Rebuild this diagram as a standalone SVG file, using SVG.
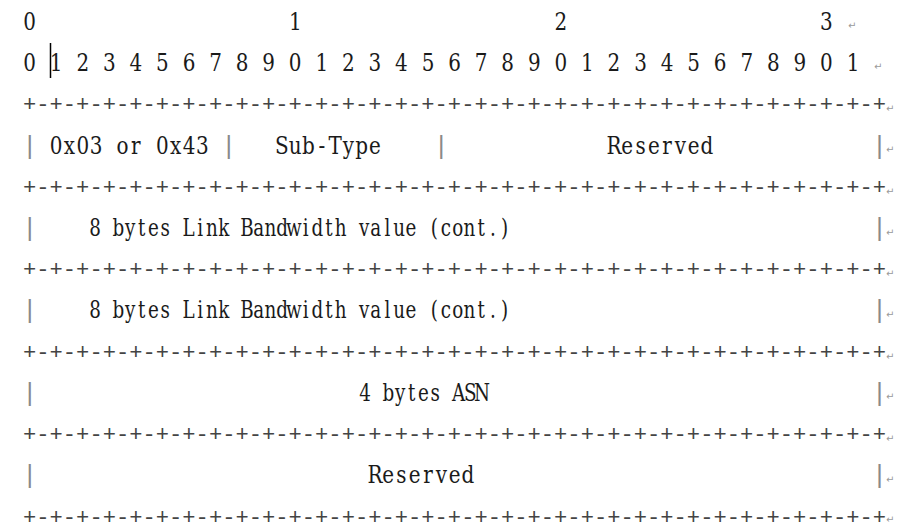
<svg xmlns="http://www.w3.org/2000/svg" width="901" height="524" viewBox="0 0 901 524">
<style>
text{font-family:"DejaVu Serif","Liberation Serif",serif;font-size:23.5px;fill:#1a1a1a;text-anchor:middle}
.mono{font-family:"Liberation Mono","DejaVu Sans Mono",monospace;font-size:22.13px;text-anchor:start;white-space:pre}
.bar{font-family:"Liberation Mono","DejaVu Sans Mono",monospace;font-size:25px;fill:#8a8a8a;text-anchor:middle}
.brd{fill:#444444}
.pm{font-family:"DejaVu Sans",sans-serif;font-size:10px;fill:#9a9a9a;text-anchor:start}
</style>
<rect width="901" height="524" fill="#ffffff"/>
<g id="header">
<text transform="translate(29.64,30) scale(0.85,1)">0</text>
<text transform="translate(295.24,30) scale(0.85,1)">1</text>
<text transform="translate(560.84,30) scale(0.85,1)">2</text>
<text transform="translate(826.44,30) scale(0.85,1)">3</text>
<text class="pm" x="848" y="29">↵</text>
<text transform="translate(29.64,71) scale(0.85,1)" x="0 31.247 62.494 93.741 124.988 156.235 187.482 218.729 249.976 281.224 312.471 343.718 374.965 406.212 437.459 468.706 499.953 531.2 562.447 593.694 624.941 656.188 687.435 718.682 749.929 781.176 812.424 843.671 874.918 906.165 937.412 968.659">01234567890123456789012345678901</text>
<text class="pm" x="874" y="70">↵</text>
<line x1="50.5" y1="43" x2="50.5" y2="78" stroke="#000" stroke-width="1.5"/>
</g>
<g id="borders">
<text class="mono brd" x="23" y="111">+-+-+-+-+-+-+-+-+-+-+-+-+-+-+-+-+-+-+-+-+-+-+-+-+-+-+-+-+-+-+-+-+</text>
<text class="mono brd" x="23" y="193.5">+-+-+-+-+-+-+-+-+-+-+-+-+-+-+-+-+-+-+-+-+-+-+-+-+-+-+-+-+-+-+-+-+</text>
<text class="mono brd" x="23" y="276">+-+-+-+-+-+-+-+-+-+-+-+-+-+-+-+-+-+-+-+-+-+-+-+-+-+-+-+-+-+-+-+-+</text>
<text class="mono brd" x="23" y="358.5">+-+-+-+-+-+-+-+-+-+-+-+-+-+-+-+-+-+-+-+-+-+-+-+-+-+-+-+-+-+-+-+-+</text>
<text class="mono brd" x="23" y="441">+-+-+-+-+-+-+-+-+-+-+-+-+-+-+-+-+-+-+-+-+-+-+-+-+-+-+-+-+-+-+-+-+</text>
<text class="mono brd" x="23" y="523.5">+-+-+-+-+-+-+-+-+-+-+-+-+-+-+-+-+-+-+-+-+-+-+-+-+-+-+-+-+-+-+-+-+</text>
<text class="pm" x="886" y="112">↵</text>
<text class="pm" x="886" y="194.5">↵</text>
<text class="pm" x="886" y="277">↵</text>
<text class="pm" x="886" y="359.5">↵</text>
<text class="pm" x="886" y="442">↵</text>
<text class="pm" x="886" y="523">↵</text>
</g>
<g id="row1">
<text class="bar" x="29.64" y="153.6">|</text>
<g id="type"><text transform="translate(56.2,153.6) scale(0.85,1)" x="0 15.624 31.247 46.871 62.494 78.118 93.741 109.365 124.988 140.612 156.235 171.859">0x03 or 0x43</text></g>
<text class="bar" x="228.84" y="153.6">|</text>
<g id="subtype"><text transform="translate(281.96,153.6) scale(0.85,1)" x="0 15.624 31.247 46.871 62.494 78.118 93.741 109.365">Sub-Type</text></g>
<text class="bar" x="441.32" y="153.6">|</text>
<g id="reserved1"><text transform="translate(613.96,153.6) scale(0.85,1)" x="0 15.624 31.247 46.871 62.494 78.118 93.741 109.365">Reserved</text></g>
<text class="bar" x="879.56" y="153.6">|</text>
<text class="pm" x="886" y="153">↵</text>
</g>
<g id="row2">
<text class="bar" x="29.64" y="236">|</text>
<text transform="translate(95,236) scale(0.78,1)" x="0 15 30 45 60 75 90 105 120 135 150 165 180 195 210 225 240 255 270 285 300 315 330 345 360 375 390 405 420 435 450 465 480 495 510 525">8 bytes Link Bandwidth value (cont.)</text>
<text class="bar" x="879.56" y="236">|</text>
<text class="pm" x="886" y="235.5">↵</text>
</g>
<g id="row3">
<text class="bar" x="29.64" y="318.4">|</text>
<text transform="translate(95,318.4) scale(0.78,1)" x="0 15 30 45 60 75 90 105 120 135 150 165 180 195 210 225 240 255 270 285 300 315 330 345 360 375 390 405 420 435 450 465 480 495 510 525">8 bytes Link Bandwidth value (cont.)</text>
<text class="bar" x="879.56" y="318.4">|</text>
<text class="pm" x="886" y="318">↵</text>
</g>
<g id="row4">
<text class="bar" x="29.64" y="400.8">|</text>
<text transform="translate(365,400.8) scale(0.78,1)" x="0 15 30 45 60 75 90 105 120 135 150">4 bytes ASN</text>
<text class="bar" x="879.56" y="400.8">|</text>
<text class="pm" x="886" y="400">↵</text>
</g>
<g id="row5">
<text class="bar" x="29.64" y="483.2">|</text>
<text transform="translate(374.92,483.2) scale(0.85,1)" x="0 15.624 31.247 46.871 62.494 78.118 93.741 109.365">Reserved</text>
<text class="bar" x="879.56" y="483.2">|</text>
<text class="pm" x="886" y="482.5">↵</text>
</g>
</svg>
